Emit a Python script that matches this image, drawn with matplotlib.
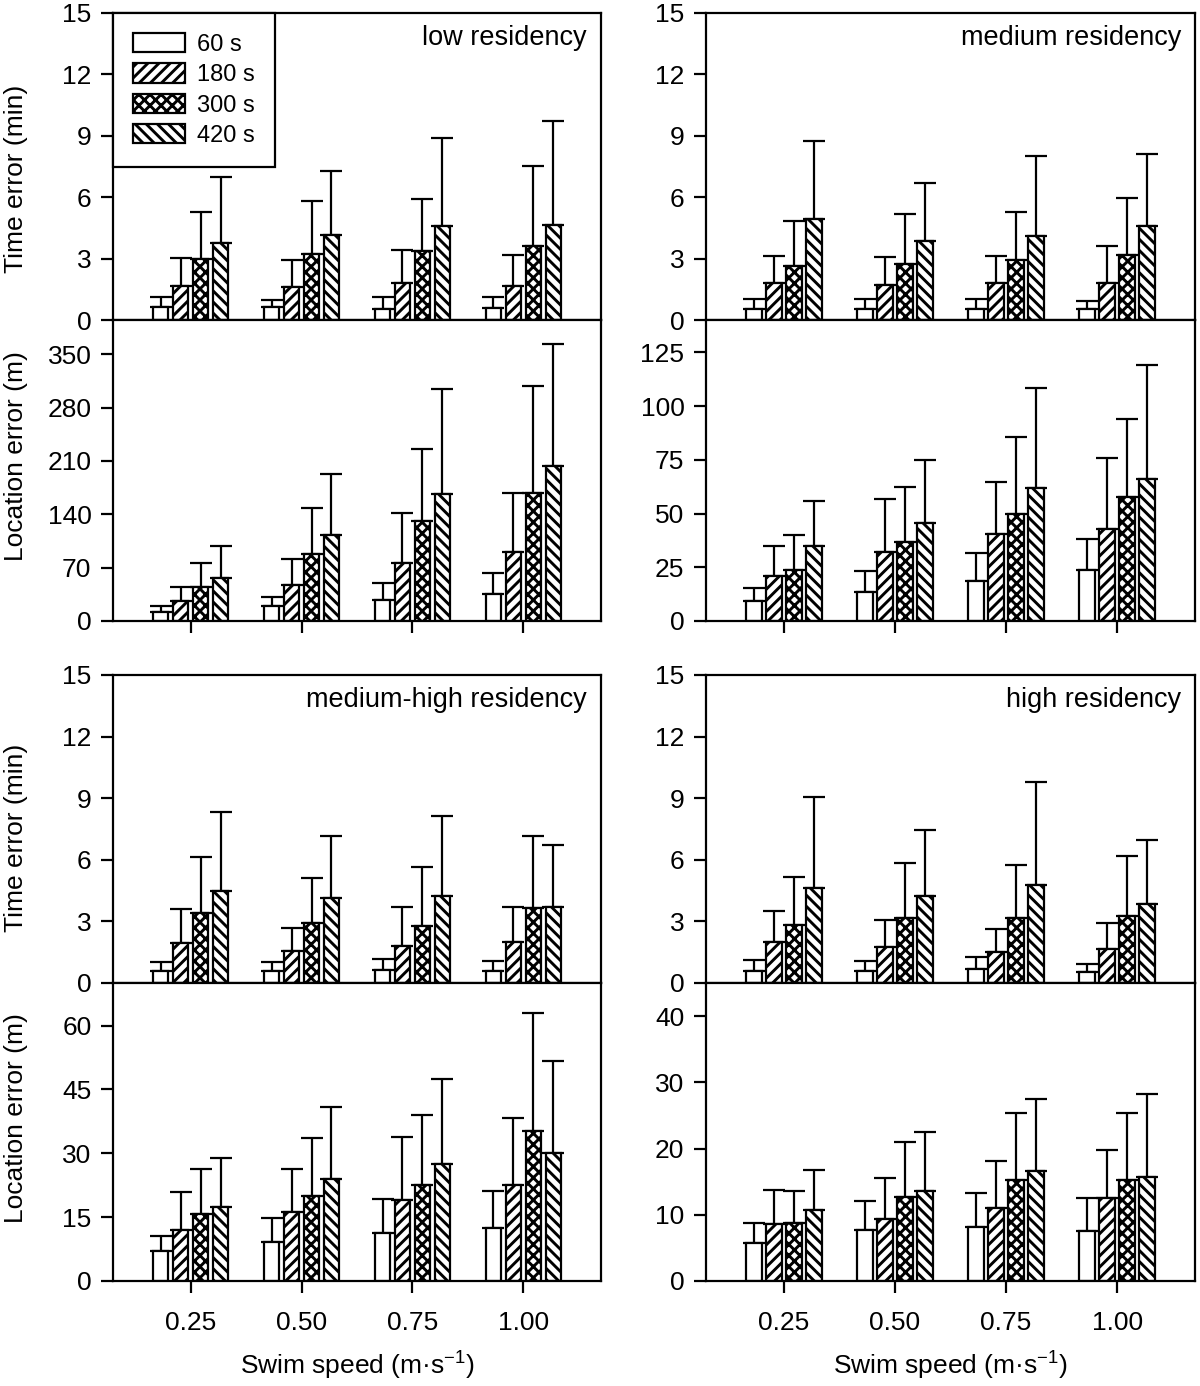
import matplotlib
matplotlib.use("Agg")
import matplotlib.pyplot as plt
import numpy as np

SPEEDS = ["0.25", "0.50", "0.75", "1.00"]
INTERVALS = ["60 s", "180 s", "300 s", "420 s"]
HATCHES = ["", "///", "xxx", "\\\\\\"]

# rows = interval (60, 180, 300, 420 s), columns = swim speed
low_time_mean = [[0.62, 0.62, 0.54, 0.58], [1.67, 1.62, 1.82, 1.65],
                 [3.00, 3.21, 3.36, 3.62], [3.76, 4.15, 4.61, 4.65]]
low_time_sd = [[0.52, 0.38, 0.60, 0.56], [1.36, 1.31, 1.62, 1.54],
               [2.29, 2.58, 2.54, 3.92], [3.21, 3.15, 4.28, 5.08]]
low_loc_mean = [[11.8, 20.1, 27.2, 35.5], [26.3, 47.3, 76.7, 90.2],
                [44.7, 88.5, 131.8, 168.2], [56.1, 112.6, 167.3, 203.7]]
low_loc_sd = [[7.9, 11.0, 23.2, 27.1], [18.8, 34.6, 65.2, 78.0],
              [31.5, 60.4, 93.8, 140.6], [42.9, 80.1, 136.7, 160.3]]

med_time_mean = [[0.55, 0.55, 0.55, 0.55], [1.83, 1.71, 1.81, 1.81],
                 [2.63, 2.72, 2.95, 3.18], [4.93, 3.85, 4.11, 4.60]]
med_time_sd = [[0.49, 0.49, 0.49, 0.38], [1.29, 1.39, 1.31, 1.83],
               [2.22, 2.48, 2.35, 2.76], [3.81, 2.85, 3.88, 3.49]]
med_loc_mean = [[9.2, 13.6, 18.7, 23.7], [21.0, 32.3, 40.5, 43.0],
                [23.9, 36.8, 49.9, 57.5], [35.1, 45.8, 61.7, 66.1]]
med_loc_sd = [[6.1, 9.5, 12.8, 14.6], [13.9, 24.4, 24.3, 32.8],
              [16.2, 25.6, 35.5, 36.3], [20.7, 28.9, 46.5, 53.0]]

mh_time_mean = [[0.57, 0.57, 0.63, 0.57], [1.97, 1.58, 1.80, 2.00],
                [3.41, 2.93, 2.76, 3.63], [4.47, 4.15, 4.24, 3.71]]
mh_time_sd = [[0.47, 0.47, 0.54, 0.52], [1.62, 1.12, 1.92, 1.72],
              [2.72, 2.16, 2.91, 3.52], [3.86, 3.00, 3.89, 3.01]]
mh_loc_mean = [[6.95, 9.06, 11.3, 12.5], [12.0, 16.2, 19.0, 22.5],
               [15.7, 20.0, 22.5, 35.3], [17.3, 23.9, 27.6, 30.0]]
mh_loc_sd = [[3.55, 5.84, 8.0, 8.75], [8.8, 10.1, 14.75, 15.9],
             [10.7, 13.7, 16.5, 27.7], [11.7, 16.9, 19.8, 21.6]]

high_time_mean = [[0.60, 0.60, 0.68, 0.54], [2.00, 1.74, 1.53, 1.66],
                  [2.81, 3.17, 3.17, 3.28], [4.63, 4.23, 4.76, 3.85]]
high_time_sd = [[0.52, 0.49, 0.60, 0.40], [1.53, 1.32, 1.10, 1.25],
                [2.33, 2.67, 2.60, 2.90], [4.41, 3.22, 5.04, 3.11]]
high_loc_mean = [[5.7, 7.65, 8.2, 7.6], [8.6, 9.35, 10.95, 12.55],
                 [8.8, 12.7, 15.25, 15.25], [10.65, 13.65, 16.6, 15.75]]
high_loc_sd = [[3.1, 4.4, 5.05, 4.9], [5.1, 6.2, 7.15, 7.25],
               [4.75, 8.25, 10.05, 10.15], [6.1, 8.85, 10.9, 12.55]]

PANELS = [
    ("low residency", low_time_mean, low_time_sd, low_loc_mean, low_loc_sd,
     395, np.arange(0, 351, 70)),
    ("medium residency", med_time_mean, med_time_sd, med_loc_mean, med_loc_sd,
     140, np.arange(0, 126, 25)),
    ("medium-high residency", mh_time_mean, mh_time_sd, mh_loc_mean, mh_loc_sd,
     70, np.arange(0, 61, 15)),
    ("high residency", high_time_mean, high_time_sd, high_loc_mean, high_loc_sd,
     45, np.arange(0, 41, 10)),
]

plt.rcParams["font.family"] = ["Liberation Sans", "DejaVu Sans"]
plt.rcParams["mathtext.default"] = "regular"
plt.rcParams["hatch.linewidth"] = 2.1
plt.rcParams["hatch.color"] = "black"

FS = 19
W, H = 1200, 1386
fig = plt.figure(figsize=(W / 100, H / 100), dpi=100)


def px_axes(x0, x1, y0, y1):
    return fig.add_axes([x0 / W, 1 - y1 / H, (x1 - x0) / W, (y1 - y0) / H])


def bars(ax, means, sds):
    x = np.arange(len(SPEEDS))
    handles = []
    for i, lab in enumerate(INTERVALS):
        pos = x + (i - 1.5) * 0.18
        m = np.array(means[i])
        s = np.array(sds[i])
        ax.errorbar(pos, m, yerr=[np.zeros_like(s), s], fmt="none",
                    ecolor="black", elinewidth=1.6, capsize=7.9,
                    capthick=1.6, zorder=2)
        b = ax.bar(pos, m, width=0.14, color="white", edgecolor="black",
                   linewidth=1.6, hatch=HATCHES[i], label=lab, zorder=3)
        handles.append(b)
    return handles


def style(ax):
    for sp in ax.spines.values():
        sp.set_linewidth(1.6)
        sp.set_zorder(4)
    ax.tick_params(axis="both", direction="out", length=8.5, width=1.6,
                   labelsize=FS, pad=7)
    ax.set_xlim(-0.7, 3.7)


cols = [(113, 601), (706, 1195)]
rows = [((13, 320), (320, 621)), ((675, 983), (983, 1281))]

for k, (name, tm, ts, lm, ls, ltop, lticks) in enumerate(PANELS):
    r, c = divmod(k, 2)
    x0, x1 = cols[c]
    (ty0, ty1), (ly0, ly1) = rows[r]

    axt = px_axes(x0, x1, ty0, ty1)
    handles = bars(axt, tm, ts)
    style(axt)
    axt.set_ylim(0, 15)
    axt.set_yticks(np.arange(0, 16, 3))
    axt.tick_params(axis="x", bottom=False, labelbottom=False)
    axt.annotate(name, xy=(1, 1), xycoords="axes fraction",
                 xytext=(-10, -8.5), textcoords="offset points",
                 ha="right", va="top", fontsize=FS + 0.5)

    axl = px_axes(x0, x1, ly0, ly1)
    bars(axl, lm, ls)
    style(axl)
    axl.set_ylim(0, ltop)
    axl.set_yticks(lticks)
    axl.set_xticks(np.arange(len(SPEEDS)))
    if r == 1:
        axl.set_xticklabels(SPEEDS)
        axl.tick_params(axis="x", pad=13)
        axl.set_xlabel("Swim speed (m\u00b7s$^{-1}$)", fontsize=FS, labelpad=11)
    else:
        axl.set_xticklabels([])

    if c == 0:
        axt.set_ylabel("Time error (min)", fontsize=FS)
        axt.yaxis.set_label_coords(-0.175, 0.46 if r == 0 else 0.47)
        axl.set_ylabel("Location error (m)", fontsize=FS)
        axl.yaxis.set_label_coords(-0.175, 0.548)

    if k == 0:
        leg = axt.legend(handles=handles, loc="upper left", fontsize=17,
                         borderaxespad=0, frameon=True, fancybox=False,
                         edgecolor="black", framealpha=1,
                         handlelength=2.2, handleheight=0.88,
                         handletextpad=0.5, labelspacing=0.32,
                         borderpad=0.85)
        leg.get_frame().set_linewidth(1.6)
        leg.set_zorder(5)

fig.savefig("out.png", dpi=100)
